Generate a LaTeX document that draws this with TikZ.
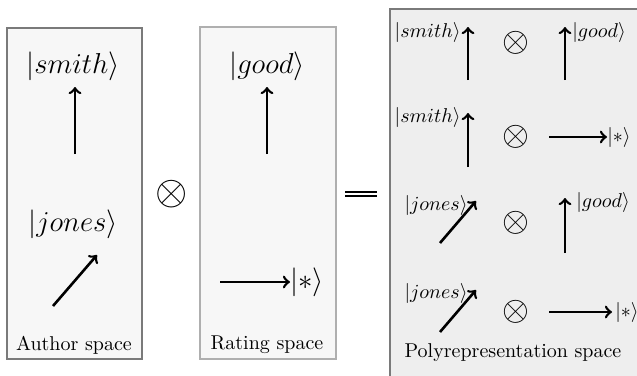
\documentclass[tikz,border=0pt]{standalone}
\usetikzlibrary{calc}

\begin{document}
\begin{tikzpicture}[x=0.5pt, y=-0.5pt]
    % Define colours
    \definecolor{borderColour}{HTML}{7A7A7A}
    \definecolor{spaceColour}{HTML}{F7F7F7}
    \definecolor{polyColour}{HTML}{EEEEEE}

    % Define styles
    \tikzset{
        vec/.style={->, line width=1.3pt},
        spacebox/.style={fill=spaceColour, draw=borderColour, line width=0.7pt},
        bigket/.style={font=\fontsize{14}{16}\selectfont, inner sep=1pt},
        smallket/.style={font=\fontsize{9.8}{11}\selectfont, inner sep=1pt},
        tensor/.style={font=\fontsize{22}{24}\selectfont, inner sep=0pt},
        smalltensor/.style={font=\fontsize{18}{20}\selectfont, inner sep=0pt}
    }

    % Page size
    \clip (0,0) rectangle (637,375);

    % Draw the three spaces
    \draw[spacebox] (7,28) rectangle (142,359);
    \draw[spacebox, draw=borderColour!60] (200,27) rectangle (336,359);
    \draw[spacebox, fill=polyColour] (390,9) rectangle (650,390);

    % Author space
    \node[bigket] (smith) at (73,66) {$|smith\rangle$};
    \draw[vec] (75,154) -- (75,87);
    \node[bigket] (jones) at (73,224) {$|jones\rangle$};
    \draw[vec] (53,306) -- (97,255);
    \node (authorLabel) at (74,345) {Author space};

    % Tensor product and equals sign
    \node[tensor] (otimes) at (172,194) {$\otimes$};
    \coordinate (eqLeft) at (345,192);
    \coordinate (eqRight) at (377,192);
    \draw[line width=1.1pt] (eqLeft) -- (eqRight);
    \draw[line width=1.1pt] ($(eqLeft)+(0,4)$) -- ($(eqRight)+(0,4)$);

    % Rating space
    \node[bigket] (good) at (267,66) {$|good\rangle$};
    \draw[vec] (267,154) -- (267,87);
    \coordinate (starTail) at (220,282);
    \coordinate (starHead) at (290,282);
    \draw[vec] (starTail) -- (starHead);
    \node[bigket, anchor=west, inner sep=0pt] (star) at (starHead) {$|{*}\rangle$};
    \node (ratingLabel) at (267,345) {Rating space};

    % Polyrepresentation space
    \foreach \y in {43,137,223,312}
        \node[smalltensor] (otimes\y) at (516,\y) {$\otimes$};

    \node[smallket, anchor=east] (smithA) at (463,33) {$|smith\rangle$};
    \draw[vec] (468,80) -- (468,27);
    \draw[vec] (565,80) -- (565,27);
    \node[smallket, anchor=west] (goodA) at (570,33) {$|good\rangle$};

    \node[smallket, anchor=east] (smithB) at (463,117) {$|smith\rangle$};
    \draw[vec] (468,167) -- (468,113);
    \draw[vec] (549,137) -- (607,137);
    \node[smallket, anchor=west, inner sep=0pt] (starB) at (607,137) {$|{*}\rangle$};

    \node[smallket, anchor=east] (jonesC) at (470,205) {$|jones\rangle$};
    \draw[vec] (440,243) -- (476,201);
    \draw[vec] (565,253) -- (565,198);
    \node[smallket, anchor=west] (goodC) at (574,202) {$|good\rangle$};

    \node[smallket, anchor=east] (jonesD) at (470,293) {$|jones\rangle$};
    \draw[vec] (440,332) -- (476,290);
    \draw[vec] (549,312) -- (612,312);
    \node[smallket, anchor=west] (starD) at (613,312) {$|{*}\rangle$};

    \node (polyLabel) at (513,353) {Polyrepresentation space};

\end{tikzpicture}
\end{document}
